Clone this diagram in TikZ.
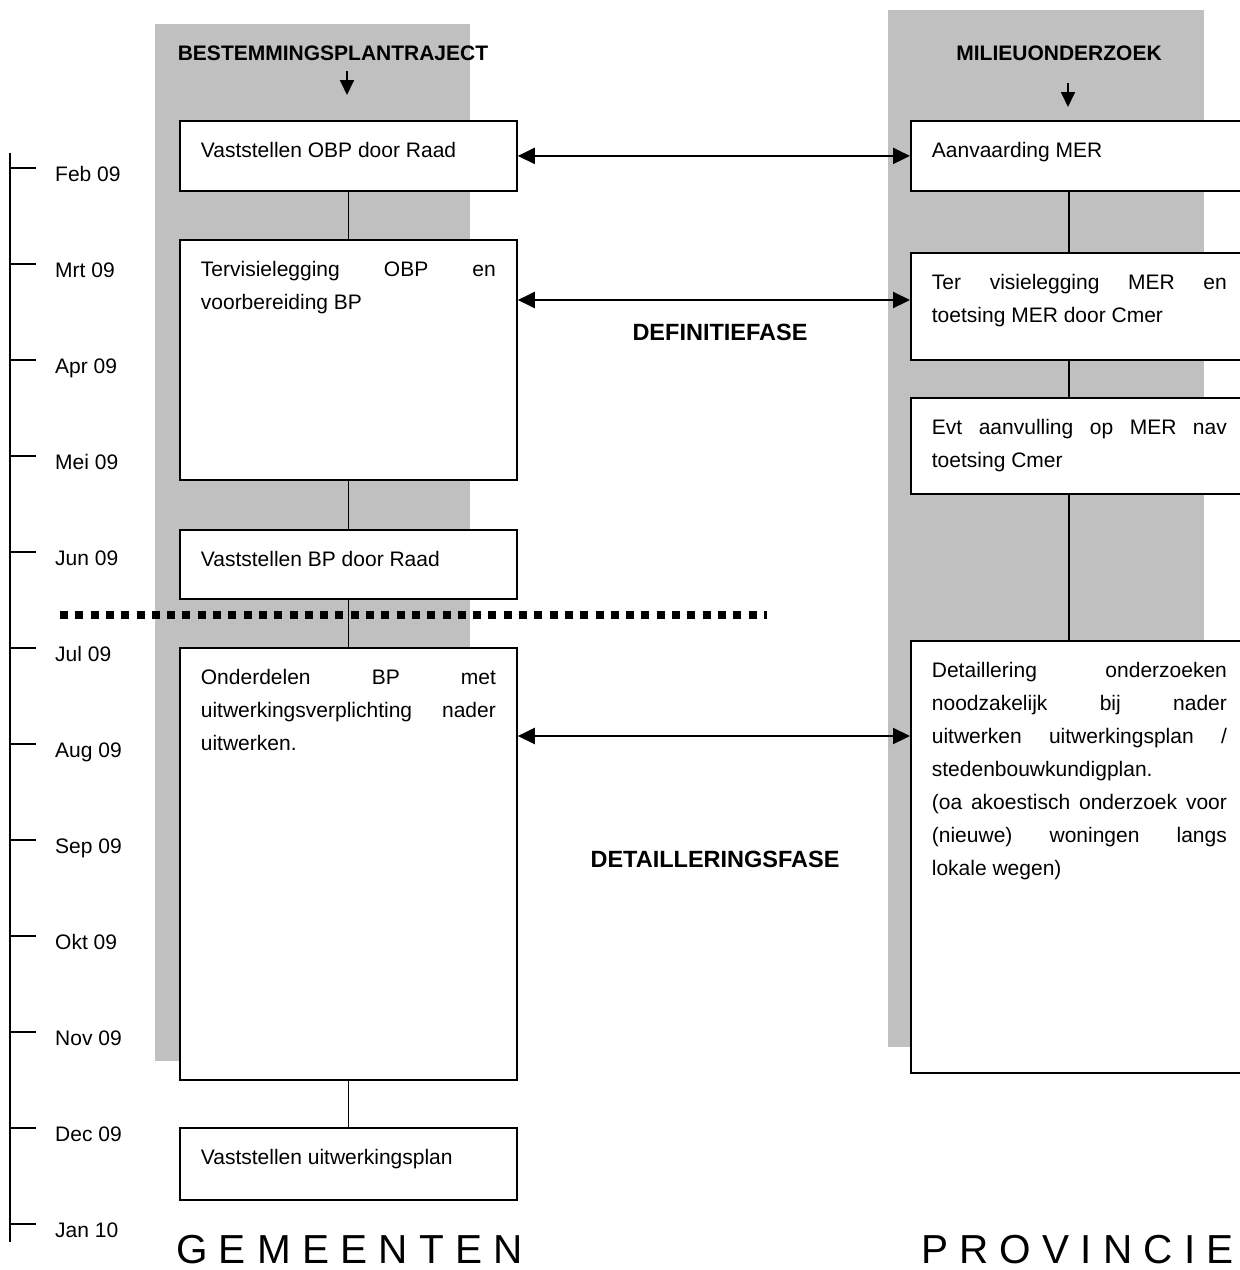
\documentclass[tikz,border=0pt]{standalone}
\usepackage{fontspec}
\setmainfont{Liberation Sans}
\usetikzlibrary{arrows.meta}

\definecolor{bandgray}{RGB}{192,192,192}
\newcommand{\planfont}{\fontsize{21}{33}\selectfont\tolerance=10000\hbadness=10000\hyphenpenalty=10000}

\begin{document}
\begin{tikzpicture}[x=1pt,y=-1pt,
    band/.style={fill=bandgray,draw=none},
    plan box/.style={draw,line width=1.8pt,fill=white,anchor=north west,
        text width=295pt,inner xsep=21pt,inner ysep=0pt,align=justify,
        text height=37pt,font=\planfont},
    header/.style={anchor=base,font=\bfseries\fontsize{21}{25}\selectfont},
    phase/.style={anchor=base,font=\bfseries\fontsize{23.5}{27}\selectfont},
    month/.style={anchor=base west,inner sep=0pt,font=\fontsize{21}{25}\selectfont},
    party/.style={anchor=base west,inner sep=0pt,font=\fontsize{40.5}{44}\selectfont},
    link/.style={line width=1.8pt},
    both/.style={line width=2.2pt,{Triangle[length=17pt,width=16pt]}-{Triangle[length=17pt,width=16pt]}},
    down/.style={line width=1.8pt,-{Triangle[length=15pt,width=14pt]}}]

    \useasboundingbox (0,0) rectangle (1240,1270);
    \clip (0,0) rectangle (1240,1270);

    % Background bands
    \fill[band] (155,24) rectangle (470,1061);
    \fill[band] (888,10) rectangle (1204,1047);

    % Headers
    \node[header] (hdrL) at (333,60) {BESTEMMINGSPLANTRAJECT};
    \node[header] (hdrR) at (1059,60) {MILIEUONDERZOEK};
    \coordinate (hL1) at (347,71);  \coordinate (hL2) at (347,95);
    \coordinate (hR1) at (1068,83); \coordinate (hR2) at (1068,107);

    % Define boxes (gemeenten)
    \node[plan box,text depth=33pt]  (b1) at (179,120)  {Vaststellen OBP door Raad};
    \node[plan box,text depth=203pt] (b2) at (179,239)  {Tervisielegging OBP en\linebreak voorbereiding BP};
    \node[plan box,text depth=32pt]  (b3) at (179,529)  {Vaststellen BP door Raad};
    \node[plan box,text depth=395pt] (b4) at (179,647)  {Onderdelen BP met\linebreak uitwerkingsverplichting nader\linebreak uitwerken.};
    \node[plan box,text depth=35pt]  (b5) at (179,1127) {Vaststellen uitwerkingsplan};

    % Define boxes (provincie)
    \node[plan box,text depth=33pt]  (bA) at (910,120) {Aanvaarding MER};
    \node[plan box,text depth=70pt]  (bB) at (910,252) {Ter visielegging MER en\linebreak toetsing MER door Cmer};
    \node[plan box,text depth=59pt]  (bC) at (910,397) {Evt aanvulling op MER nav\linebreak toetsing Cmer};
    \node[plan box,text depth=395pt] (bD) at (910,640) {Detaillering onderzoeken\linebreak noodzakelijk bij nader\linebreak uitwerken uitwerkingsplan /\linebreak stedenbouwkundigplan.\par
        (oa akoestisch onderzoek voor\linebreak (nieuwe) woningen langs\linebreak lokale wegen)};

    % Phase labels
    \node[phase] (def) at (720,340) {DEFINITIEFASE};
    \node[phase] (det) at (715,867) {DETAILLERINGSFASE};

    % Draw edges
    \draw[down] (hL1) -- (hL2);
    \draw[down] (hR1) -- (hR2);
    \path[link]
        (b1) edge (b2)
        (b2) edge (b3)
        (b3) edge (b4)
        (b4) edge (b5);
    \draw[link] ([xshift=-10.5pt]bA.south) -- ([xshift=-10.5pt]bB.north);
    \draw[link] ([xshift=-10.5pt]bB.south) -- ([xshift=-10.5pt]bC.north);
    \draw[link] ([xshift=-10.5pt]bC.south) -- ([xshift=-10.5pt]bD.north);
    \draw[both] (b1.east) -- (bA.west);
    \draw[both] (b2.east |- 0,300) -- (bB.west |- 0,300);
    \draw[both] (b4.east |- 0,736) -- (bD.west |- 0,736);

    % Phase border
    \draw[line width=8pt,dash pattern=on 8pt off 7.3pt] (60,615) -- (767,615);

    % Time line
    \draw[link] (10,153) -- (10,1242);
    \foreach \m [count=\i from 0] in {Feb 09,Mrt 09,Apr 09,Mei 09,Jun 09,Jul 09,Aug 09,Sep 09,Okt 09,Nov 09,Dec 09,Jan 10} {
        \draw[link] (10,168+96*\i) -- ++(26,0);
        \node[month] (m\i) at (55,181+96*\i) {\m};
    }

    % Parties
    \node[party] (gem) at (176,1263) {G E M E E N T E N};
    \node[party] (prov) at (921,1263) {P R O V I N C I E};

\end{tikzpicture}
\end{document}
